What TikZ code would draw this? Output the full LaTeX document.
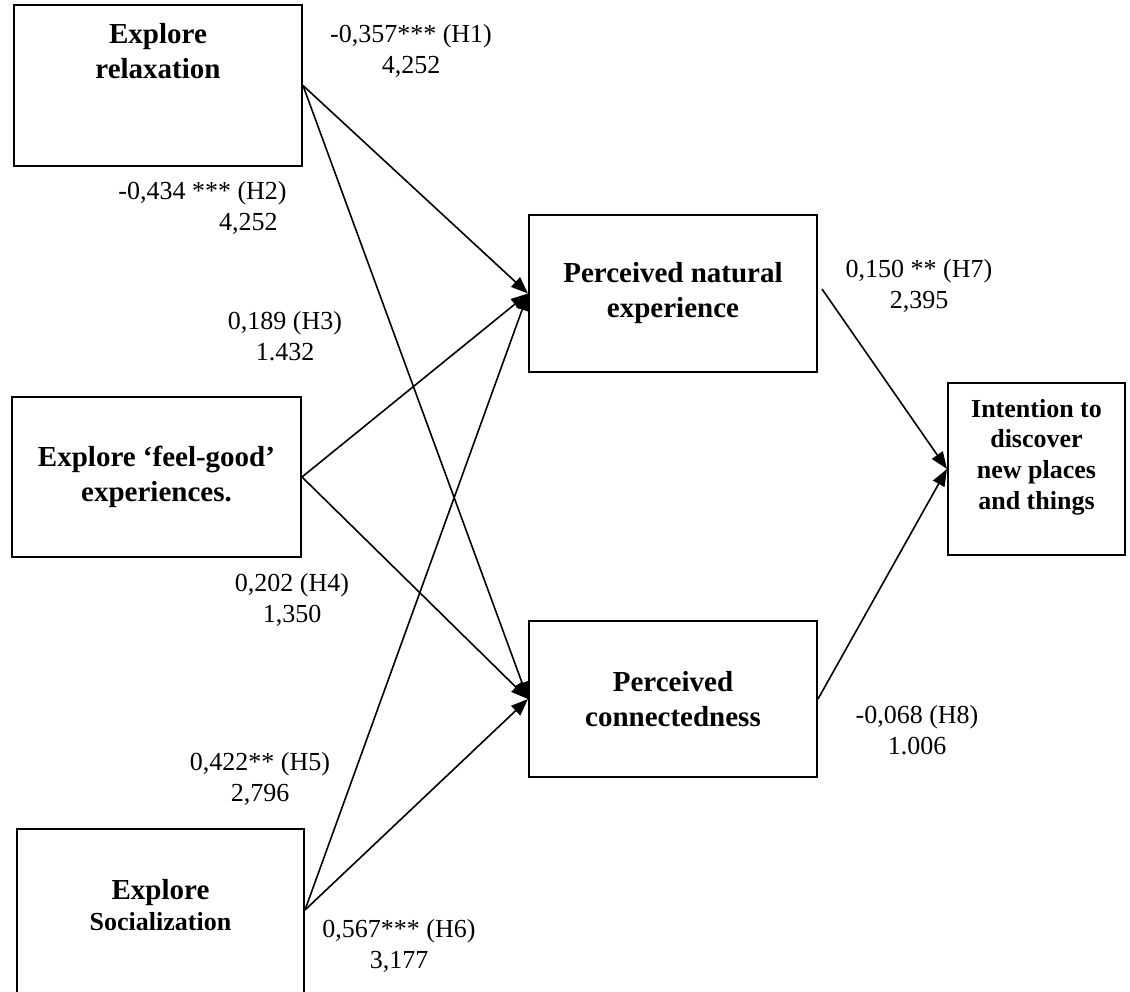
\documentclass[tikz,border=0pt]{standalone}
\usepackage{fontspec}
\setmainfont{Liberation Serif}
\usetikzlibrary{arrows.meta}

\begin{document}
\begin{tikzpicture}[
  x=0.5pt, y=-0.5pt,
  box/.style = {
    rectangle, draw=black, line width=1pt,
    font=\bfseries\fontsize{14.5}{17.5}\selectfont, align=center,
    inner sep=0pt
  },
  boxtxt/.style = {
    font=\bfseries\fontsize{14.5}{17.5}\selectfont, align=center,
    inner sep=0pt
  },
  coef/.style = {
    font=\fontsize{13}{15.5}\selectfont, align=center, inner sep=0pt
  },
  arr/.style = {-{Triangle[length=8.5pt, width=6.5pt]}, line width=0.8pt}
]
  \useasboundingbox (0,0) rectangle (1130,991);

  \node[box, minimum width=144pt, minimum height=80.5pt] (relax)  at (158,85.5)    {};
  \node[box, minimum width=144.5pt, minimum height=80pt] (feel)   at (156.5,477)   {Explore ‘feel-good’\\experiences.};
  \node[box, minimum width=143.5pt, minimum height=83.5pt] (social) at (160.5,912.5) {};
  \node[box, minimum width=144pt, minimum height=78.5pt] (pne)    at (673,293.5)   {Perceived natural\\experience};
  \node[box, minimum width=144pt, minimum height=78pt]   (pc)     at (673,699)     {Perceived\\connectedness};
  \node[box, minimum width=88.5pt, minimum height=86pt]  (intent) at (1036.5,469)  {};

  \node[boxtxt] (relaxtxt)  at ([yshift=17pt]relax.center)  {Explore\\relaxation};
  \node[boxtxt] (socialtxt) at ([yshift=3.75pt]social.center) {Explore\\[-2pt]{\fontsize{13}{15}\selectfont Socialization}};
  \node[boxtxt, font=\bfseries\fontsize{13}{15.3}\selectfont] (intenttxt) at ([yshift=6pt]intent.center)
    {Intention to\\discover\\new places\\and things};

  \node[coef] (h1) at (411,51) {-0,357*** (H1)\\4,252};
  \node[coef, align=right, anchor=east] (h2) at (287,208) {-0,434 *** (H2)\\4,252\hspace*{4.5pt}};
  \node[coef] (h3) at (285,336) {0,189 (H3)\\1.432};
  \node[coef] (h4) at (292,600) {0,202 (H4)\\1,350};
  \node[coef] (h5) at (260,779) {0,422** (H5)\\2,796};
  \node[coef] (h6) at (399,946) {0,567*** (H6)\\3,177};
  \node[coef] (h7) at (919,286) {0,150 ** (H7)\\2,395};
  \node[coef] (h8) at (917,730) {-0,068 (H8)\\1.006};

  \draw[arr] (relax.east)                      -- (pne.west);
  \draw[arr] (relax.east)                      -- (pc.west);
  \draw[arr] (feel.east)                       -- (pne.west);
  \draw[arr] (feel.east)                       -- (pc.west);
  \draw[arr] ([yshift=1.25pt]social.east)      -- (pne.west);
  \draw[arr] ([yshift=1.25pt]social.east)      -- (pc.west);
  \draw[arr] ([xshift=2pt,yshift=2.25pt]pne.east) -- (intent.west);
  \draw[arr] (pc.east)                         -- (intent.west);
\end{tikzpicture}
\end{document}
